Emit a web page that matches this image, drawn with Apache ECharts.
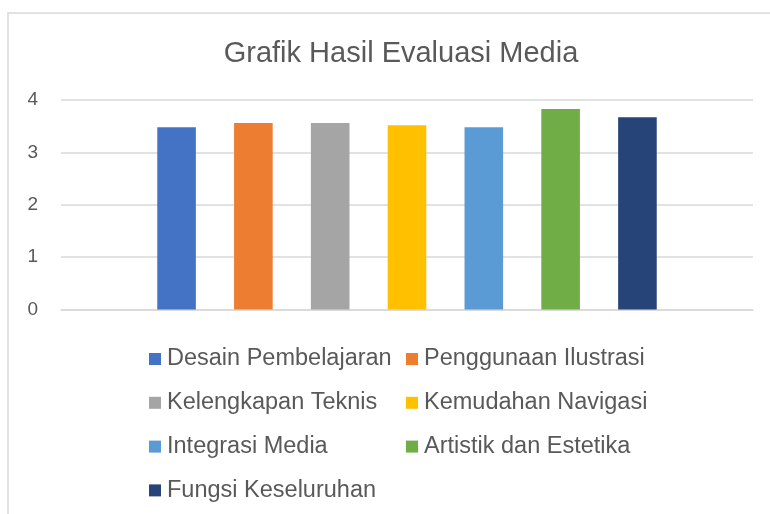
<!DOCTYPE html>
<html>
<head>
<meta charset="utf-8">
<script src="https://cdn.jsdelivr.net/npm/echarts@6/dist/echarts.min.js"></script>
<style>html,body{margin:0;padding:0;background:#fff}#c{width:770px;height:514px}</style>
</head>
<body>
<div id="c"></div>
<script>
const titleText = 'Grafik Hasil Evaluasi Media';
const categories = ['Hasil Evaluasi Media'];
const seriesNames = ['Desain Pembelajaran', 'Penggunaan Ilustrasi', 'Kelengkapan Teknis', 'Kemudahan Navigasi', 'Integrasi Media', 'Artistik dan Estetika', 'Fungsi Keseluruhan'];
const seriesValues = [3.48, 3.56, 3.56, 3.52, 3.48, 3.83, 3.67];
const seriesColors = ['#4472C4', '#ED7D31', '#A5A5A5', '#FFC000', '#5B9BD5', '#70AD47', '#264478'];
const yTicks = [0, 1, 2, 3, 4];

const chart = echarts.init(document.getElementById('c'), null, {renderer: 'canvas'});
const FONT = '"Liberation Sans", Arial, sans-serif';
const legendCommon = {
  orient: 'vertical',
  icon: 'rect',
  itemWidth: 12,
  itemHeight: 12,
  itemGap: 19.8,
  textStyle: {fontFamily: FONT, fontSize: 23.5, color: '#595959', lineHeight: 24, padding: [0,0,0,1]},
  padding: 0,
  selectedMode: false
};
chart.setOption({
  animation: false,
  graphic: [{
    type: 'rect', shape: {x: 8, y: 13, width: 800, height: 600},
    style: {fill: 'none', stroke: '#d9d9d9', lineWidth: 1.5}, silent: true, z: -1
  }],
  title: {
    text: titleText, left: 396, top: 34, textAlign: 'center',
    textStyle: {fontFamily: FONT, fontSize: 29, fontWeight: 'normal', color: '#595959'}
  },
  legend: [
    Object.assign({}, legendCommon, {left: 149, top: 347, data: seriesNames.filter((n, i) => i % 2 === 0)}),
    Object.assign({}, legendCommon, {left: 406, top: 347, data: seriesNames.filter((n, i) => i % 2 === 1)})
  ],
  grid: {left: 61, right: 17, top: 100, bottom: 204.5, containLabel: false},
  xAxis: {
    type: 'category', data: categories,
    axisLine: {show: true, lineStyle: {color: '#d9d9d9', width: 1.5}},
    axisTick: {show: false}, axisLabel: {show: false}
  },
  yAxis: {
    type: 'value', min: yTicks[0], max: yTicks[yTicks.length - 1], interval: 1,
    axisLine: {show: false}, axisTick: {show: false},
    axisLabel: {fontFamily: FONT, fontSize: 19, color: '#595959', margin: 23},
    splitLine: {lineStyle: {color: '#d9d9d9', width: 1.5}}
  },
  series: seriesNames.map((name, i) => ({
    name: name, type: 'bar', data: [seriesValues[i]],
    itemStyle: {color: seriesColors[i]},
    barWidth: 38.6, barGap: '99%'
  }))
});
</script>
</body>
</html>
